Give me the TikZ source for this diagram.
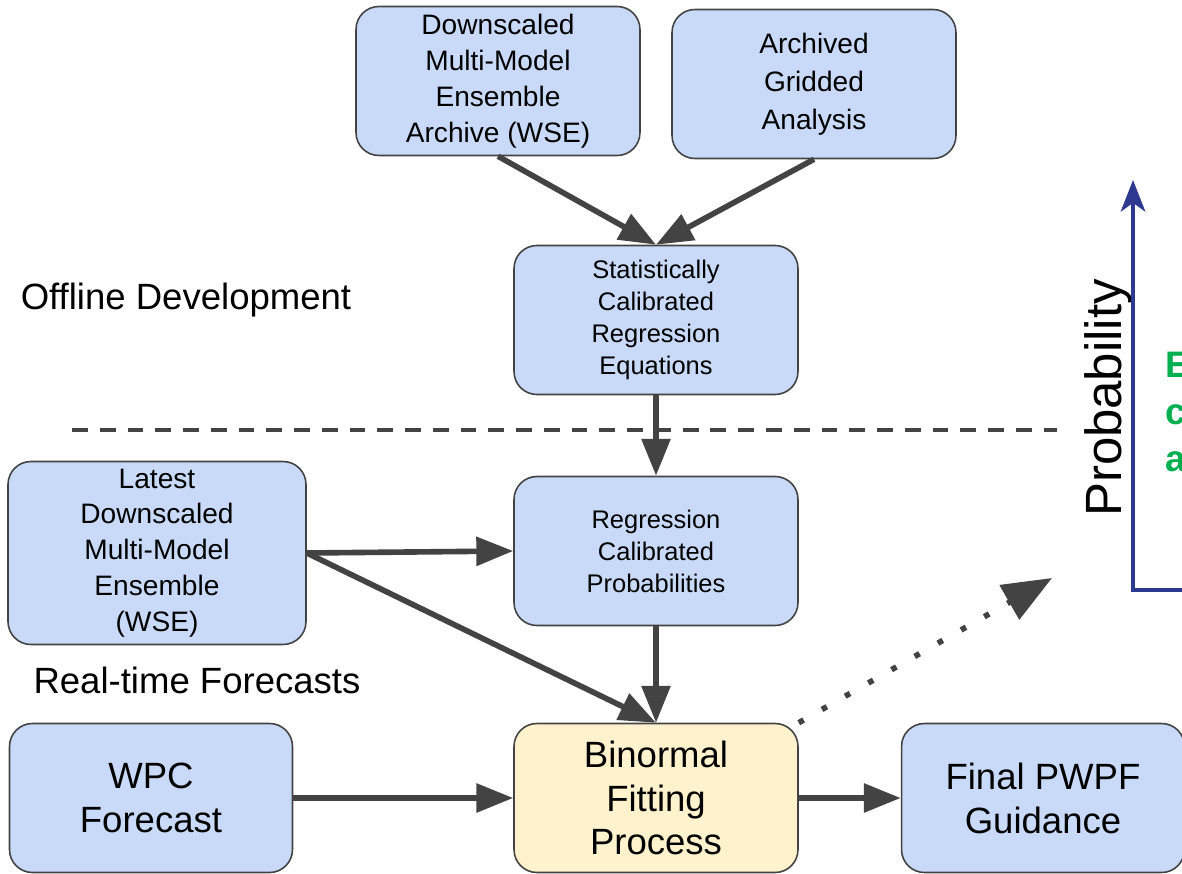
\documentclass[tikz,border=0pt]{standalone}
\usepackage{fontspec}
\setmainfont{Liberation Sans}
\usetikzlibrary{arrows.meta}
\definecolor{boxblue}{HTML}{C9DAF8}
\definecolor{boxyellow}{HTML}{FFF2CC}
\definecolor{edgegray}{HTML}{434343}
\definecolor{axisblue}{HTML}{2E3A8F}
\definecolor{notegreen}{HTML}{00B050}
\begin{document}
\begin{tikzpicture}
[x=0.02cm, y=-0.02cm]
\tikzstyle{box}=[rectangle, rounded corners=13pt, draw=edgegray, line width=0.9pt, fill=boxblue, align=center, inner sep=0pt, minimum width=5.68cm, minimum height=2.98cm]
\tikzstyle{small}=[font=\fontsize{14.5}{18.2}\selectfont]
\tikzstyle{medium}=[font=\fontsize{16}{20.4}\selectfont]
\tikzstyle{large}=[font=\fontsize{20.8}{25}\selectfont]
\tikzstyle{flow}=[draw=edgegray, line width=3.2pt, -{Triangle[length=21pt,width=16pt]}]
\tikzstyle{hint}=[draw=edgegray, line width=3.2pt, dash pattern=on 3.2pt off 12pt, -{Triangle[length=28pt,width=22pt]}]
\useasboundingbox (0,0) rectangle (1182,874);
\clip (0,0) rectangle (1182,874);
% offline part
\node[box, medium]	(archive)	at (498,81)	{Downscaled\\Multi-Model\\Ensemble\\Archive (WSE)};
\node[box, medium, font=\fontsize{16}{21.5}\selectfont]	(gridded)	at (814,84)	{Archived\\Gridded\\Analysis};
\node[box, small]	(stateq)	at (656,320)	{Statistically\\Calibrated\\Regression\\Equations};
\node[large]	(offline)	at (186,300)	{Offline Development};
% real-time part
\node[box, medium, minimum width=5.96cm, minimum height=3.66cm]	(latest)	at (157,553)	{Latest\\Downscaled\\Multi-Model\\Ensemble\\(WSE)};
\node[box, small]	(regprob)	at (656,551)	{Regression\\Calibrated\\Probabilities};
\node[large]	(realtime)	at (197,680)	{Real-time Forecasts};
\node[box, large, minimum width=5.66cm]	(wpc)	at (151,798)	{WPC\\Forecast};
\node[box, large, fill=boxyellow]	(binormal)	at (656,798)	{Binormal\\Fitting\\Process};
\node[box, large, minimum width=5.66cm]	(final)	at (1043,798)	{Final PWPF\\Guidance};
% probability axis
\coordinate	(divl)	at (72,430);
\coordinate	(divr)	at (1057,430);
\coordinate	(hintend)	at (1052,578);
\coordinate	(ytop)	at (1133,180);
\coordinate	(origin)	at (1133,590);
\coordinate	(xend)	at (1195,590);
\node[rotate=90, font=\fontsize{29}{32}\selectfont]	(problabel)	at (1108,398)	{Probability};
\node[anchor=west, align=left, text=notegreen, font=\fontsize{21}{26.6}\selectfont\bfseries]	(note)	at (1159,412)	{E\\c\\a};

\draw[flow]	(archive.south)--(stateq.north);
\draw[flow]	(gridded.south)--(stateq.north);
\draw[flow]	(stateq)--(regprob);
\draw[flow]	(latest.east)--(regprob.west);
\draw[flow]	(latest.east)--(binormal.north);
\draw[flow]	(regprob)--(binormal);
\draw[flow]	(wpc)--(binormal);
\draw[flow]	(binormal)--(final);
\draw[hint]	(binormal.north east)--(hintend);
\draw[edgegray, line width=2.3pt, dash pattern=on 9pt off 6.8pt]	(divl)--(divr);
\draw[axisblue, line width=2pt, {Stealth[length=18pt,width=14pt,inset=5pt]}-]	(ytop)--(origin)--(xend);
\end{tikzpicture}
\end{document}
